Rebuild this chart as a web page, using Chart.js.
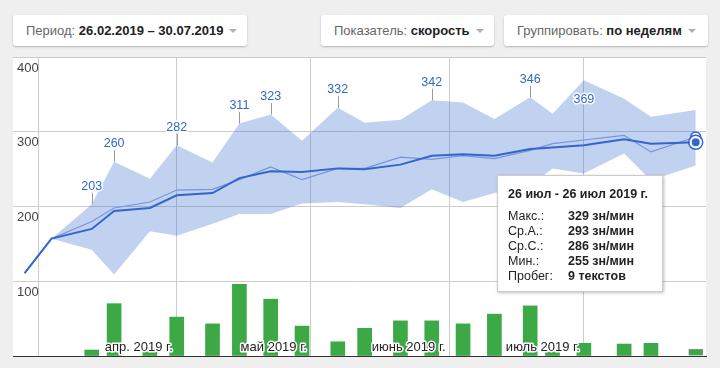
<!DOCTYPE html>
<html lang="ru">
<head>
<meta charset="utf-8">
<title>Скорость по неделям</title>
<script src="https://cdn.jsdelivr.net/npm/chart.js@4.4.1/dist/chart.umd.min.js"></script>
<style>
  html, body { margin: 0; padding: 0; }
  body {
    width: 720px; height: 368px; overflow: hidden; position: relative;
    background: #efefef;
    font-family: Arial, "Liberation Sans", sans-serif;
  }
  .btn {
    position: absolute; top: 15px; height: 31px; line-height: 31px;
    box-sizing: border-box; padding-left: 13px;
    background: #fff; border-radius: 3px;
    box-shadow: 0 1px 2px rgba(0, 0, 0, 0.25);
    font-size: 13px; color: #666; white-space: nowrap;
  }
  .btn b { color: #222; }
  .caret {
    display: inline-block; vertical-align: middle; margin-left: 6px; margin-top: -2px;
    border-left: 4px solid transparent; border-right: 4px solid transparent;
    border-top: 4px solid #b0b0b0;
  }
  #panel { position: absolute; left: 13px; top: 57px; width: 693px; height: 299px; background: #fff; }
  #chart { position: absolute; left: 0; top: 0; }
  #tip {
    position: absolute; left: 497px; top: 175px; width: 166px; height: 117px;
    box-sizing: border-box; padding: 11px 10px;
    background: #fff; border: 1px solid #ccc;
    box-shadow: 1px 1px 3px rgba(0, 0, 0, 0.25);
    font-size: 12.5px; color: #222; white-space: nowrap;
  }
  #tip .title { font-weight: bold; font-size: 12.5px; line-height: 15px; margin-bottom: 7px; }
  #tip .row { line-height: 15px; height: 15px; }
  #tip .row span { display: inline-block; width: 60px; }
  #tip .row b { color: #222; }
</style>
</head>
<body>

<div class="btn" style="left:13px; width:234px;">Период: <b>26.02.2019 – 30.07.2019</b><span class="caret"></span></div>
<div class="btn" style="left:321px; width:173px;">Показатель: <b>скорость</b><span class="caret"></span></div>
<div class="btn" style="left:504px; width:204px;">Группировать: <b>по неделям</b><span class="caret"></span></div>

<div id="panel"></div>
<canvas id="chart" width="720" height="368"></canvas>
<div id="tip"></div>

<script>
// weekly points (first day with data in each week)
const dates = [
    '2019-02-26', '2019-03-04', '2019-03-13', '2019-03-18', '2019-03-26', '2019-04-01',
    '2019-04-09', '2019-04-15', '2019-04-22', '2019-04-29', '2019-05-07', '2019-05-13',
    '2019-05-21', '2019-05-28', '2019-06-04', '2019-06-11', '2019-06-19', '2019-06-24',
    '2019-07-01', '2019-07-10', '2019-07-16', '2019-07-26'
];
const maxVals    = [111, 157, 203, 260, 237, 282, 259, 311, 323, 288, 332, 312, 316, 342, 339, 317, 346, 324, 369, 344, 320, 329];
const meanVals   = [111, 157, 180, 198, 206, 222, 223, 236, 253, 236, 251, 251, 266, 263, 268, 264, 275, 284, 289, 295, 273, 293];
const medianVals = [111, 157, 170, 194, 198, 215, 218, 238, 247, 246, 251, 250, 256, 268, 270, 268, 277, 279, 282, 290, 284, 286];
const minVals    = [111, 157, 142, 109, 167, 161, 177, 190, 190, 204, 206, 203, 198, 223, 206, 218, 228, 251, 244, 271, 235, 255];
const textCounts = [null, null, 8, 70, 10, 52, 43, 96, 76, 40, 19, 37, 47, 47, 43, 56, 67, 8, 17, 16, 17, 9];

// weeks where a new best max was set
const recordIdx = [2, 3, 5, 7, 8, 10, 13, 16, 18];

const monthTicks  = ['2019-03-01', '2019-04-01', '2019-05-01', '2019-06-01', '2019-07-01'];
const monthLabels = ['', 'апр. 2019 г.', 'май 2019 г.', 'июнь 2019 г.', 'июль 2019 г.'];
const monthShort  = ['янв', 'фев', 'мар', 'апр', 'мая', 'июн', 'июл', 'авг', 'сен', 'окт', 'ноя', 'дек'];

const BLUE = '#3366cc';
const FONT = 'Arial, "Liberation Sans", sans-serif';
const origin = Date.UTC(2019, 2, 1);

function dayOf(s) {
    const p = s.split('-').map(Number);
    return (Date.UTC(p[0], p[1] - 1, p[2]) - origin) / 86400000;
}

const xs = dates.map(dayOf);
const last = dates.length - 1;
const pts = vals => vals.map((v, i) => ({ x: xs[i], y: v }));
const onlyLast = (v, other) => dates.map((d, i) => i === last ? v : other);

function haloText(ctx, text, x, y, color) {
    ctx.lineWidth = 3;
    ctx.strokeStyle = '#fff';
    ctx.lineJoin = 'round';
    ctx.strokeText(text, x, y);
    ctx.fillStyle = color;
    ctx.fillText(text, x, y);
}

// month labels inside the plot, record peak labels, focus ring on the selected week
const overlays = {
    id: 'overlays',
    afterDatasetsDraw(chart) {
        const { ctx, chartArea, scales } = chart;
        ctx.save();
        ctx.textBaseline = 'middle';

        ctx.font = '13px ' + FONT;
        ctx.textAlign = 'right';
        monthTicks.forEach((d, i) => {
            if (!monthLabels[i]) return;
            const x = scales.x.getPixelForValue(dayOf(d)) - 4;
            haloText(ctx, monthLabels[i], x, chartArea.bottom - 9, '#222');
        });

        ctx.font = '12.5px ' + FONT;
        ctx.textAlign = 'center';
        recordIdx.forEach(i => {
            const x = scales.x.getPixelForValue(xs[i]);
            const y = scales.y.getPixelForValue(maxVals[i]);
            let ty = y - 18;
            if (ty - 7 < chartArea.top) {
                ty = y + 19;
            } else {
                ctx.strokeStyle = '#999';
                ctx.lineWidth = 1;
                ctx.beginPath();
                ctx.moveTo(Math.round(x) + 0.5, y);
                ctx.lineTo(Math.round(x) + 0.5, y - 11.5);
                ctx.stroke();
            }
            haloText(ctx, String(maxVals[i]), x, ty, BLUE);
        });

        const fx = scales.x.getPixelForValue(xs[last]);
        const fy = scales.y.getPixelForValue(medianVals[last]);
        ctx.strokeStyle = BLUE;
        ctx.lineWidth = 1.5;
        ctx.beginPath();
        ctx.arc(fx, fy, 7, 0, Math.PI * 2);
        ctx.stroke();
        ctx.restore();
    }
};

new Chart(document.getElementById('chart'), {
    type: 'line',
    data: {
        datasets: [
            {
                label: 'Макс.',
                data: pts(maxVals),
                borderWidth: 0,
                pointRadius: 0,
                fill: '+1',
                backgroundColor: 'rgba(51, 102, 204, 0.3)',
                order: 3
            },
            {
                label: 'Мин.',
                data: pts(minVals),
                borderWidth: 0,
                pointRadius: 0,
                fill: false,
                order: 3
            },
            {
                label: 'Ср.А.',
                data: pts(meanVals),
                borderColor: '#7695dc',
                borderWidth: 1.2,
                pointRadius: onlyLast(5, 0),
                pointBackgroundColor: '#fff',
                pointBorderColor: BLUE,
                pointBorderWidth: 1.5,
                order: 2
            },
            {
                label: 'Ср.С.',
                data: pts(medianVals),
                borderColor: BLUE,
                borderWidth: 2,
                pointRadius: onlyLast(5, 0),
                pointBackgroundColor: BLUE,
                pointBorderColor: '#fff',
                pointBorderWidth: 2,
                order: 1
            },
            {
                type: 'bar',
                label: 'Пробег',
                data: pts(textCounts),
                backgroundColor: '#3ca846',
                borderColor: onlyLast('#8a8a8a', '#3ca846'),
                borderWidth: onlyLast(1, 0),
                barThickness: 14,
                order: 4
            }
        ]
    },
    options: {
        responsive: false,
        devicePixelRatio: 1,
        animation: false,
        events: [],
        layout: { padding: { left: 13, top: 57, right: 14, bottom: 12 } },
        elements: { line: { tension: 0 } },
        plugins: {
            legend: { display: false },
            tooltip: { enabled: false }
        },
        scales: {
            x: {
                type: 'linear',
                min: -5.6,
                max: 149.3,
                offset: false,
                afterFit: s => { s.height = 0; },
                afterBuildTicks: s => { s.ticks = monthTicks.map(d => ({ value: dayOf(d) })); },
                grid: { color: '#cccccc', drawTicks: false, offset: false },
                border: { display: true, color: '#333', width: 1 },
                ticks: { display: false }
            },
            y: {
                min: 0,
                max: 400,
                afterFit: s => { s.width = 0; },
                grid: { color: '#cccccc', drawTicks: false },
                border: { display: false },
                ticks: {
                    z: 1,
                    stepSize: 100,
                    mirror: true,
                    padding: 4,
                    labelOffset: 11,
                    color: '#444',
                    font: { family: FONT, size: 13 },
                    callback: v => v === 0 ? '' : String(v)
                }
            }
        }
    },
    plugins: [overlays]
});

// tooltip for the selected (last) week
function fmtDay(s) {
    const p = s.split('-').map(Number);
    return p[2] + ' ' + monthShort[p[1] - 1];
}
const lastYear = dates[last].slice(0, 4);
const rows = [
    ['Макс.:', maxVals[last] + ' зн/мин'],
    ['Ср.А.:', meanVals[last] + ' зн/мин'],
    ['Ср.С.:', medianVals[last] + ' зн/мин'],
    ['Мин.:', minVals[last] + ' зн/мин'],
    ['Пробег:', textCounts[last] + ' текстов']
];
document.getElementById('tip').innerHTML =
    '<div class="title">' + fmtDay(dates[last]) + ' - ' + fmtDay(dates[last]) + ' ' + lastYear + ' г.</div>' +
    rows.map(r => '<div class="row"><span>' + r[0] + '</span><b>' + r[1] + '</b></div>').join('');
</script>
</body>
</html>
